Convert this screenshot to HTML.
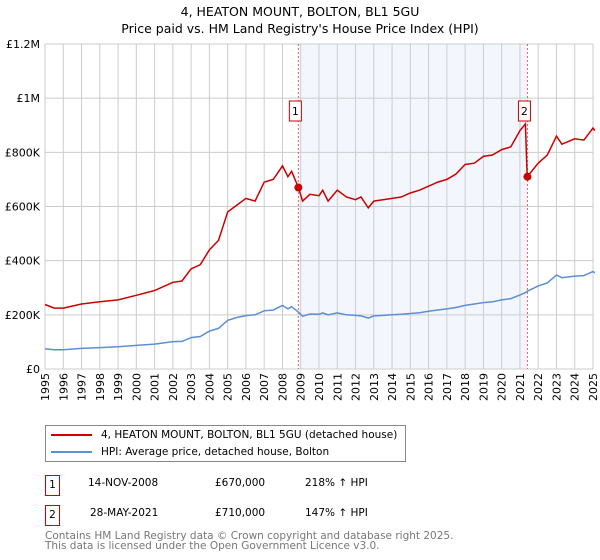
<!DOCTYPE html>
<html><head><meta charset="utf-8"><style>
body{margin:0;width:600px;height:560px;background:#fff;font-family:"DejaVu Sans","Liberation Sans",sans-serif;overflow:hidden;position:relative}
.t{position:absolute;white-space:nowrap}
</style></head><body>
<div class="t" style="left:0;width:600px;text-align:center;top:3px;font-size:12.5px;line-height:17px">4, HEATON MOUNT, BOLTON, BL1 5GU<br>Price paid vs. HM Land Registry's House Price Index (HPI)</div>
<svg id="ch" width="600" height="420" style="position:absolute;left:0;top:0" font-family="DejaVu Sans, Liberation Sans, sans-serif"></svg>
<div style="position:absolute;left:45px;top:425px;width:359px;height:35px;border:1px solid #888;font-size:10.5px">
 <div style="position:absolute;left:5px;top:3px"><span style="display:inline-block;width:41px;height:2px;background:#cc0000;vertical-align:middle;margin-right:9px"></span>4, HEATON MOUNT, BOLTON, BL1 5GU (detached house)</div>
 <div style="position:absolute;left:5px;top:20px"><span style="display:inline-block;width:41px;height:2px;background:#5b8fd6;vertical-align:middle;margin-right:9px"></span>HPI: Average price, detached house, Bolton</div>
</div>
<div style="font-size:10.5px">
 <div class="t" style="left:45px;top:475px;width:13px;height:19px;border:1px solid #cc0000;text-align:center;line-height:19px">1</div>
 <div class="t" style="left:88px;top:477px">14-NOV-2008</div>
 <div class="t" style="left:215px;top:477px">£670,000</div>
 <div class="t" style="left:305px;top:477px">218% ↑ HPI</div>
</div>
<div style="font-size:10.5px">
 <div class="t" style="left:45px;top:505px;width:13px;height:19px;border:1px solid #cc0000;text-align:center;line-height:19px">2</div>
 <div class="t" style="left:90px;top:507px">28-MAY-2021</div>
 <div class="t" style="left:215px;top:507px">£710,000</div>
 <div class="t" style="left:305px;top:507px">147% ↑ HPI</div>
</div>
<div class="t" style="left:45px;top:531px;font-size:10.5px;line-height:10px;color:#777">Contains HM Land Registry data © Crown copyright and database right 2025.<br>This data is licensed under the Open Government Licence v3.0.</div>
<script>
const yearTicks=[1995,1996,1997,1998,1999,2000,2001,2002,2003,2004,2005,2006,2007,2008,2009,2010,2011,2012,2013,2014,2015,2016,2017,2018,2019,2020,2021,2022,2023,2024,2025];
const priceTicks=[0,200000,400000,600000,800000,1000000,1200000];
const priceTickLabels=["£0","£200K","£400K","£600K","£800K","£1M","£1.2M"];
const hpiT=[1995,1995.5,1996,1997,1998,1999,2000,2001,2002,2002.5,2003,2003.5,2004,2004.5,2005,2005.5,2006,2006.5,2007,2007.5,2008,2008.3,2008.5,2008.87,2009.1,2009.5,2010,2010.2,2010.5,2011,2011.5,2012,2012.3,2012.7,2013,2013.5,2014,2014.5,2015,2015.5,2016,2016.5,2017,2017.5,2018,2018.5,2019,2019.5,2020,2020.5,2021,2021.3,2021.4,2022,2022.5,2023,2023.3,2024,2024.5,2025,2025.1];
const hpiV=[75,71,71,76,79,82,87,92,101,102,116,120,140,150,180,190,197,200,215,218,235,222,230,210,195,203,202,207,200,207,200,198,196,188,196,198,200,202,205,208,213,218,222,227,235,240,245,248,255,260,273,282,287,307,318,347,337,343,345,360,355];
const priceV=[238,225,225,240,248,255,272,290,320,325,370,385,440,475,580,605,630,620,690,700,750,710,730,670,620,645,640,660,620,660,635,625,635,595,620,625,630,635,650,660,675,690,700,720,755,760,785,790,810,820,880,905,710,760,790,860,830,850,845,890,880];
const sales=[{t:2008.87,v:670000,n:"1"},{t:2021.41,v:710000,n:"2"}];
const L=45,R=593,T=44,B=369;
const x=t=>L+(t-1995)/30*(R-L);
const y=v=>B-v/1200000*(B-T);
const svg=document.getElementById('ch');const NS="http://www.w3.org/2000/svg";
function mk(tag,at,parent){const e=document.createElementNS(NS,tag);for(const k in at)e.setAttribute(k,at[k]);(parent||svg).appendChild(e);return e;}
let e=mk('rect',{x:x(sales[0].t),y:T,width:x(sales[1].t)-x(sales[0].t),height:B-T,fill:'#eef3fc',opacity:0.7});


yearTicks.forEach(yr=>{
 const g=mk('line',{x1:x(yr),x2:x(yr),y1:T,y2:B,stroke:'#ccc','stroke-width':1});
 
 
 const tx=mk('text',{x:0,y:0,'font-size':11,'text-anchor':'end',transform:`translate(${x(yr)+4},${B+4}) rotate(-90)`});
 tx.textContent=yr;
 
 
});
priceTicks.forEach((v,i)=>{
 const g=mk('line',{x1:L,x2:R,y1:y(v),y2:y(v),stroke:'#ccc','stroke-width':1});
 
 
 const tx=mk('text',{x:L-5,y:y(v)+4,'font-size':11,'text-anchor':'end'});
 tx.textContent=priceTickLabels[i];
 
 
});
sales.forEach(s=>{
 const l=mk('line',{x1:x(s.t),x2:x(s.t),y1:T,y2:B,stroke:'#e06060','stroke-width':1,'stroke-dasharray':'2,2'});
 
 
});
const pts=(vs)=>hpiT.map((t,i)=>x(t).toFixed(1)+','+y(vs[i]*1000).toFixed(1)).join(' ');
e=mk('polyline',{points:pts(hpiV),fill:'none',stroke:'#5b8fd6','stroke-width':1.5});


e=mk('polyline',{points:pts(priceV),fill:'none',stroke:'#cc0000','stroke-width':1.5});


sales.forEach(s=>{
 const c=mk('circle',{cx:x(s.t),cy:y(s.v),r:4,fill:'#cc0000'});
 
 
 const bx=mk('rect',{x:x(s.t)-9,y:101,width:12,height:20,fill:'#fff',stroke:'#cc0000'});
 
 
 const tx=mk('text',{x:x(s.t)-3,y:115,'font-size':11,'text-anchor':'middle'});
 tx.textContent=s.n;
 
 
});
</script>
</body></html>
